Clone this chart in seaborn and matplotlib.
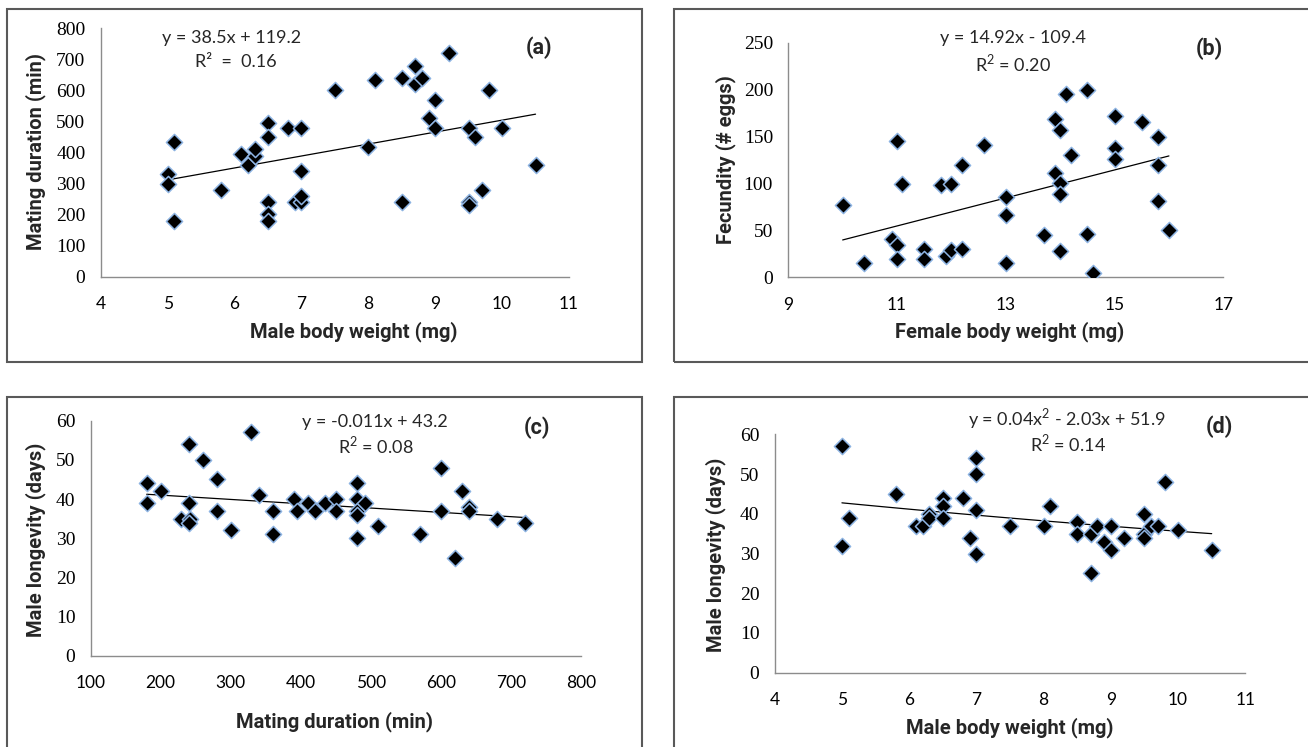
import numpy as np
import pandas as pd
import matplotlib
matplotlib.use("Agg")
import matplotlib.pyplot as plt
from matplotlib.patches import Rectangle
import seaborn as sns

# ---------------- data ----------------
a_x = [5.0, 5.0, 5.1, 5.1, 5.8, 6.1, 6.2, 6.3, 6.3, 6.5, 6.5, 6.5, 6.5, 6.5, 6.8, 6.9, 7.0,
       7.0, 7.0, 7.0, 7.5, 8.0, 8.1, 8.5, 8.5, 8.7, 8.7, 8.8, 8.9, 9.0, 9.0, 9.2, 9.5, 9.5,
       9.5, 9.6, 9.7, 9.8, 10.0, 10.5]
a_y = [330, 300, 435, 180, 280, 395, 360, 390, 410, 494, 451, 242, 202, 180, 480, 242, 240,
       480, 340, 260, 601, 419, 632, 641, 242, 680, 621, 641, 512, 569, 480, 720, 480, 242,
       231, 451, 280, 601, 480, 360]

b_x = [10.0, 10.4, 10.9, 11.0, 11.0, 11.0, 11.1, 11.5, 11.5, 11.8, 11.9, 12.0, 12.0, 12.2,
       12.2, 12.6, 13.0, 13.0, 13.0, 13.7, 13.9, 13.9, 14.0, 14.0, 14.0, 14.0, 14.1, 14.2,
       14.5, 14.5, 14.6, 15.0, 15.0, 15.0, 15.5, 15.8, 15.8, 15.8, 16.0]
b_y = [77, 15, 41, 34, 20, 145, 99, 30, 20, 98, 23, 99, 29, 120, 30, 141, 86, 66, 15, 45,
       169, 111, 157, 100, 89, 28, 195, 130, 200, 46, 5, 172, 138, 126, 165, 149, 120, 81, 50]

c_x = [180, 180, 200, 229, 240, 240, 242, 240, 260, 280, 280, 300, 329, 340, 360, 360, 390,
       394, 410, 420, 434, 450, 450, 480, 480, 480, 480, 480, 492, 511, 570, 600, 600, 620,
       631, 640, 640, 680, 720]
c_y = [44, 39, 42, 35, 54, 39, 35, 34, 50, 45, 37, 32, 57, 41, 37, 31, 40, 37, 39, 37, 39,
       40, 37, 44, 40, 37, 36, 30, 39, 33, 31, 48, 37, 25, 42, 38, 37, 35, 34]

d_x = [5.0, 5.0, 5.1, 5.8, 6.1, 6.2, 6.3, 6.3, 6.5, 6.5, 6.5, 6.8, 6.9, 7.0, 7.0, 7.0, 7.0,
       7.5, 8.0, 8.1, 8.5, 8.5, 8.7, 8.7, 8.8, 8.9, 9.0, 9.0, 9.2, 9.5, 9.5, 9.5, 9.6, 9.7,
       9.8, 10.0, 10.5]
d_y = [57, 32, 39, 45, 37, 37, 40, 39, 44, 42, 39, 44, 34, 54, 50, 41, 30, 37, 37, 42, 38,
       35, 35, 25, 37, 33, 37, 31, 34, 40, 35, 34, 37, 37, 48, 36, 31]

# fitted trend coefficients (highest power first) as printed on the chart
a_fit = [38.5, 119.2]
b_fit = [14.92, -109.4]
c_fit = [-0.011, 43.2]
d_fit = [0.04, -2.03, 51.9]

a_eq, a_r2 = "y = 38.5x + 119.2", "R\u00b2  =  0.16"
b_eq, b_r2 = "y = 14.92x - 109.4", "R$^2$ = 0.20"
c_eq, c_r2 = "y = -0.011x + 43.2", "R$^2$ = 0.08"
d_eq, d_r2 = "y = 0.04x$^2$ - 2.03x + 51.9", "R$^2$ = 0.14"

# ---------------- style ----------------
sns.set_theme(style="white")
plt.rcParams["font.family"] = ["Lato", "DejaVu Sans"]
plt.rcParams["mathtext.fontset"] = "custom"
plt.rcParams["mathtext.rm"] = "Lato"

W, H = 1308, 747
fig = plt.figure(figsize=(W / 100, H / 100), dpi=100)
fig.patch.set_facecolor("white")


def rect(l, r, t, b):
    return [l / W, 1 - b / H, (r - l) / W, (b - t) / H]


EDGE = "#8db3e2"
AX_GRAY = "#8c8c8c"
BOLD_FAM = ["Roboto", "DejaVu Sans"]


def panel(box, xs, ys, fit, xlim, ylim, xticks, yticks, xlabel, ylabel,
          eq, r2, tag, eq_pos, r2_pos, tag_pos, xlab_pos, ylab_pos):
    ax = fig.add_axes(rect(*box))
    df = pd.DataFrame({"x": xs, "y": ys})
    sns.scatterplot(data=df, x="x", y="y", ax=ax, marker="D", s=68,
                    color="black", edgecolor=EDGE, linewidth=1.1, zorder=3)
    xx = np.linspace(min(xs), max(xs), 100)
    ax.plot(xx, np.polyval(fit, xx), color="black", lw=0.9, zorder=2)
    ax.set_xlim(*xlim)
    ax.set_ylim(*ylim)
    ax.set_xticks(xticks)
    ax.set_yticks(yticks)
    ax.set_xticklabels([str(t) for t in xticks], fontsize=12.5, family=["Lato", "DejaVu Sans"])
    ax.set_yticklabels([str(t) for t in yticks], fontsize=14,
                       family=["Liberation Serif", "DejaVu Serif"])
    for s in ["top", "right"]:
        ax.spines[s].set_visible(False)
    for s in ["left", "bottom"]:
        ax.spines[s].set_color(AX_GRAY)
        ax.spines[s].set_linewidth(1.0)
    ax.tick_params(axis="both", direction="out", length=5, width=1.0,
                   color=AX_GRAY, labelcolor="black", pad=6)
    ax.tick_params(axis="x", pad=9)
    ax.set_xlabel("")
    ax.set_ylabel("")
    ax.set_facecolor("white")
    fig.text(eq_pos[0] / W, 1 - eq_pos[1] / H, eq, ha="center", va="center", fontsize=13)
    fig.text(r2_pos[0] / W, 1 - r2_pos[1] / H, r2, ha="center", va="center", fontsize=13)
    fig.text(tag_pos[0] / W, 1 - tag_pos[1] / H, tag, ha="center", va="center",
             fontsize=15.5, fontweight="bold", family=BOLD_FAM)
    fig.text(xlab_pos[0] / W, 1 - xlab_pos[1] / H, xlabel, ha="center", va="center",
             fontsize=14.5, fontweight="bold", family=BOLD_FAM)
    fig.text(ylab_pos[0] / W, 1 - ylab_pos[1] / H, ylabel, ha="center", va="center",
             fontsize=14.5, fontweight="bold", rotation=90, family=BOLD_FAM)
    return ax


panel((100.7, 569, 28.3, 276.7), a_x, a_y, a_fit, (4, 11), (0, 800),
      list(range(4, 12)), list(range(0, 801, 100)),
      "Male body weight (mg)", "Mating duration (min)",
      a_eq, a_r2, "(a)", (232, 38), (236, 62), (539, 48), (354, 332), (36, 152))

panel((788.3, 1223.3, 42.7, 277.3), b_x, b_y, b_fit, (9, 17), (0, 250),
      [9, 11, 13, 15, 17], list(range(0, 251, 50)),
      "Female body weight (mg)", "Fecundity (# eggs)",
      b_eq, b_r2, "(b)", (1013, 38), (1013, 63), (1209, 49), (1010, 332), (726, 160))

panel((90.7, 580.7, 420.7, 655.7), c_x, c_y, c_fit, (100, 800), (0, 60),
      list(range(100, 801, 100)), list(range(0, 61, 10)),
      "Mating duration (min)", "Male longevity (days)",
      c_eq, c_r2, "(c)", (375, 422), (376, 445), (537, 428), (335, 722), (36, 540))

panel((774.7, 1245.3, 434.3, 672.7), d_x, d_y, d_fit, (4, 11), (0, 60),
      list(range(4, 12)), list(range(0, 61, 10)),
      "Male body weight (mg)", "Male longevity (days)",
      d_eq, d_r2, "(d)", (1067, 419), (1068, 443), (1219, 427), (1010, 728), (716, 555))

# panel frames
for (l, r, t, b) in [(7, 642, 9, 362), (674, 1320, 9, 362),
                     (7, 642, 397, 760), (674, 1320, 397, 760)]:
    fig.patches.append(Rectangle((l / W, 1 - b / H), (r - l) / W, (b - t) / H,
                                 transform=fig.transFigure, fill=False,
                                 edgecolor="#595959", linewidth=1.5, zorder=0))

fig.savefig("out.png", dpi=100, facecolor="white")
